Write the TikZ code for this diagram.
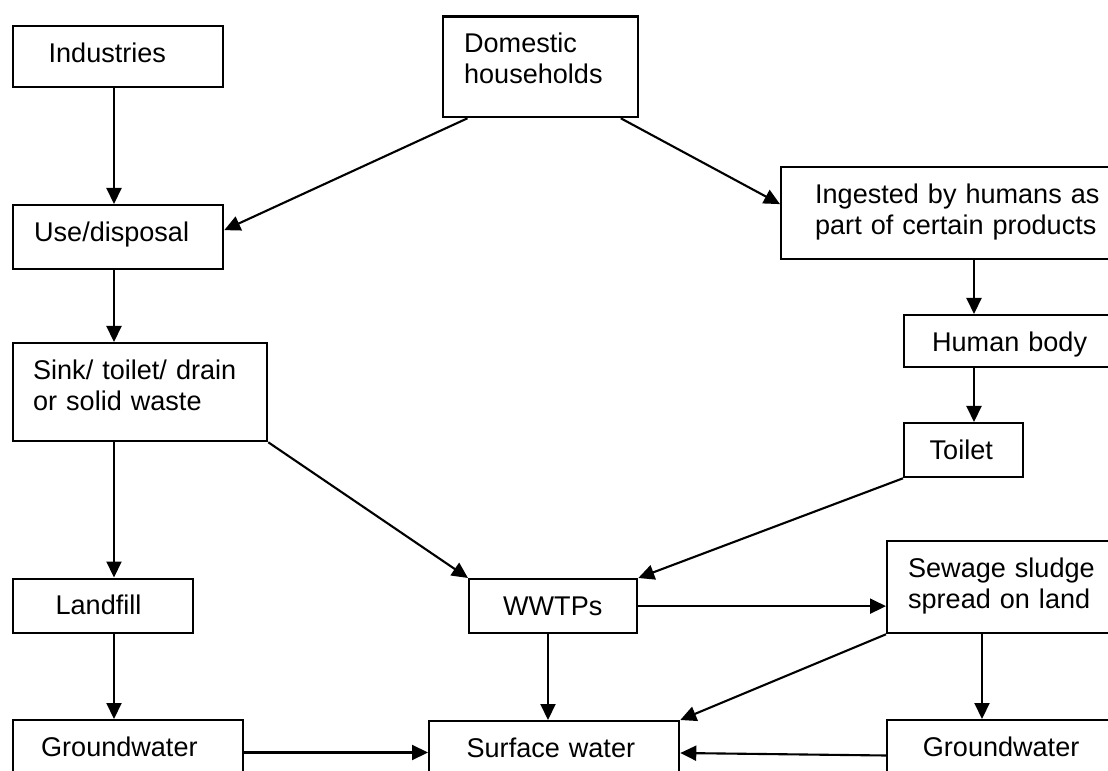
\documentclass[tikz,border=0pt]{standalone}
\usepackage{fontspec}
\setmainfont{Liberation Sans}
\usetikzlibrary{arrows.meta}
\newcommand{\boxfont}{\fontsize{15.4}{17.8}\selectfont}

\begin{document}
\begin{tikzpicture}[
	box/.style={draw, line width=1.3pt, anchor=north west, inner sep=0pt,
		align=left, font=\boxfont, text height=0.72cm},
	arr/.style={line width=1.2pt, -{Triangle[length=0.32cm, width=0.3cm]}}
	]
	
	\useasboundingbox (0,0) rectangle (22.16,-15.42); % khung hình
	
	% Các hộp
	\node[box, minimum width=4.2cm, text width=2.78cm, text depth=0.50cm] (ind) at (0.24,-0.5) {Industries};
	\node[box, minimum width=3.9cm, text width=3.06cm, text depth=1.29cm] (dom) at (8.84,-0.31) {Domestic\\households};
	\node[box, minimum width=4.2cm, text width=3.36cm, text depth=0.56cm] (use) at (0.24,-4.08) {Use/disposal};
	\node[box, minimum width=7.2cm, text width=5.84cm, text depth=1.12cm] (ing) at (15.6,-3.32) {Ingested by humans as\\part of certain products};
	\node[box, minimum width=4.74cm, text width=3.62cm, text depth=0.32cm] (hum) at (18.06,-6.28) {Human body};
	\node[box, minimum width=2.38cm, text width=1.36cm, text depth=0.36cm] (toi) at (18.06,-8.44) {Toilet};
	\node[box, minimum width=5.08cm, text width=4.28cm, text depth=1.24cm] (sink) at (0.24,-6.84) {Sink/ toilet/ drain\\or solid waste};
	\node[box, minimum width=3.6cm, text width=1.9cm, text depth=0.37cm] (land) at (0.24,-11.55) {Landfill};
	\node[box, minimum width=3.36cm, text width=2.0cm, text depth=0.36cm] (wwtp) at (9.36,-11.56) {WWTPs};
	\node[box, minimum width=4.8cm, text width=3.96cm, text depth=1.12cm] (sew) at (17.72,-10.8) {Sewage sludge\\spread on land};
	\node[box, minimum width=4.6cm, text width=3.48cm, text depth=0.58cm] (gw1) at (0.24,-14.38) {Groundwater};
	\node[box, minimum width=5.0cm, text width=3.5cm, text depth=0.58cm] (surf) at (8.56,-14.4) {Surface water};
	\node[box, minimum width=4.8cm, text width=3.37cm, text depth=0.58cm] (gw2) at (17.72,-14.38) {Groundwater};
	
	% Các cột mũi tên dọc
	\coordinate (lcol) at (2.28,0);
	\coordinate (mcol) at (10.96,0);
	\coordinate (rcol) at (19.48,0);
	\coordinate (scol) at (19.64,0);
	
	% Mũi tên
	\draw[arr] (ind.south -| lcol) -- (use.north -| lcol);
	\draw[arr] (use.south -| lcol) -- (sink.north -| lcol);
	\draw[arr] (sink.south -| lcol) -- (land.north -| lcol);
	\draw[arr] (land.south -| lcol) -- (gw1.north -| lcol);
	\draw[arr] ([xshift=0.51cm]dom.south west) -- ([yshift=0.14cm]use.east);
	\draw[arr] ([xshift=-0.37cm]dom.south east) -- ([yshift=0.18cm]ing.west);
	\draw[arr] (ing.south -| rcol) -- (hum.north -| rcol);
	\draw[arr] (hum.south -| rcol) -- (toi.north -| rcol);
	\draw[arr] (toi.south west) -- (wwtp.north east);
	\draw[arr] (sink.south east) -- (wwtp.north west);
	\draw[arr] (wwtp.south -| mcol) -- (surf.north -| mcol);
	\draw[arr] (wwtp.east) -- (wwtp.east -| sew.west);
	\draw[arr] (sew.south west) -- (surf.north east);
	\draw[arr] (sew.south -| scol) -- (gw2.north -| scol);
	\draw[arr] ([yshift=-0.67cm]gw1.north east) -- ([yshift=-0.67cm]gw1.north east -| surf.west);
	\draw[arr] ([yshift=-0.73cm]gw2.north west) -- ([yshift=-0.66cm]surf.north east);
	
\end{tikzpicture}
\end{document}
